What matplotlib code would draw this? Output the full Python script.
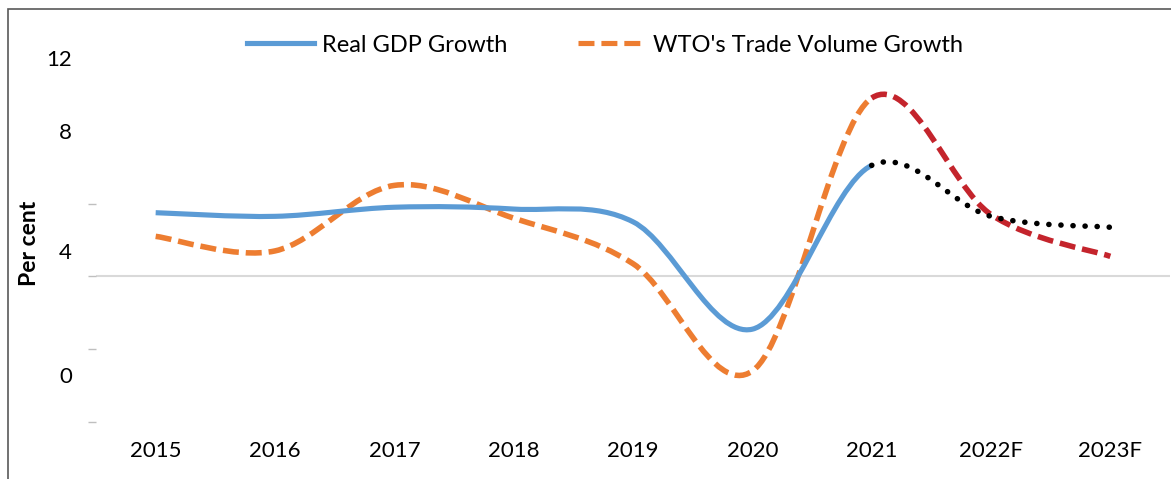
import numpy as np
import matplotlib
matplotlib.use("Agg")
import matplotlib.pyplot as plt
from matplotlib.path import Path
from matplotlib.patches import PathPatch, Rectangle
from matplotlib.lines import Line2D

plt.rcParams['font.family'] = ['Lato', 'DejaVu Sans']
plt.rcParams['lines.scale_dashes'] = False

# ---- data -------------------------------------------------------------
years = ["2015", "2016", "2017", "2018", "2019", "2020", "2021", "2022F", "2023F"]
gdp   = [3.5, 3.3, 3.8, 3.7, 3.0, -2.9, 6.1, 3.3, 2.7]     # Real GDP growth, %
trade = [2.2, 1.4, 5.0, 3.2, 0.7, -5.2, 9.8, 3.4, 1.1]     # WTO trade volume growth, %
last_actual = 6   # index of 2021, segments after it are forecasts

# y axis as it appears in the source (labels sit off their tick marks)
ytick_marks  = [-8, -4, 0, 4, 8, 12]
ylabel_pos   = [12, 8, 1.37, -5.4]
ylabel_text  = ["12", "8", "4", "0"]

c_blue   = "#5B9BD5"
c_orange = "#ED7D31"
c_red    = "#C4242C"


def smooth_path(x, y, i0, i1):
    # excel style smoothed line: cubic bezier with catmull-rom tangents
    P = np.column_stack([x, y]).astype(float)
    n = len(P)
    verts = [P[i0]]
    codes = [Path.MOVETO]
    for i in range(i0, i1):
        p0 = P[i - 1] if i > 0 else P[i]
        p1 = P[i]
        p2 = P[i + 1]
        p3 = P[i + 2] if i + 2 < n else P[i + 1]
        verts += [p1 + (p2 - p0) / 6.0, p2 - (p3 - p1) / 6.0, p2]
        codes += [Path.CURVE4] * 3
    return Path(verts, codes)


fig = plt.figure(figsize=(11.71, 4.79), dpi=100)
ax = fig.add_axes([96 / 1171, 57 / 479, 1074 / 1171, 364 / 479])

x = np.arange(len(years))
n = len(years)

ax.axhline(0, color="#D9D9D9", lw=1.5, zorder=1)

dash = (0, (11.5, 5.0))
# actual segments
ax.add_patch(PathPatch(smooth_path(x, trade, 0, last_actual), fill=False,
                       edgecolor=c_orange, lw=4, linestyle=dash,
                       capstyle="butt", zorder=3))
ax.add_patch(PathPatch(smooth_path(x, gdp, 0, last_actual), fill=False,
                       edgecolor=c_blue, lw=3.7, capstyle="butt", zorder=4))
# forecast segments
ax.add_patch(PathPatch(smooth_path(x, trade, last_actual, n - 1), fill=False,
                       edgecolor=c_red, lw=4, linestyle=dash,
                       capstyle="butt", zorder=3))
ax.add_patch(PathPatch(smooth_path(x, gdp, last_actual, n - 1), fill=False,
                       edgecolor="black", lw=4, linestyle=(0, (0.1, 8.6)),
                       capstyle="round", zorder=4))

ax.set_xlim(-0.5, n - 0.5)
ax.set_ylim(-8, 12)
for s in ax.spines.values():
    s.set_visible(False)

ax.set_xticks(x, labels=years)
ax.tick_params(axis="x", length=0, pad=14, labelsize=16)

ax.set_yticks(ytick_marks, minor=True)
ax.set_yticks(ylabel_pos, labels=ylabel_text)
ax.tick_params(axis="y", which="minor", length=5.8, width=1, color="#BFBFBF")
ax.tick_params(axis="y", which="major", length=0, pad=17.3, labelsize=16)

fig.text(30 / 1171, 1 - 243 / 479, "Per cent", rotation=90, ha="center", va="center",
         fontsize=16.5, fontweight="bold")

handles = [Line2D([], [], color=c_blue, lw=3.7),
           Line2D([], [], color=c_orange, lw=3.7, linestyle=dash)]
fig.legend(handles, ["Real GDP Growth", "WTO's Trade Volume Growth"],
           loc="center", bbox_to_anchor=(605 / 1171, 1 - 45 / 479), ncol=2,
           frameon=False, fontsize=17, handlelength=2.85, handletextpad=0.34,
           columnspacing=3.0)

# chart frame (left and top edge visible in the source)
fig.add_artist(Rectangle((8 / 1171, -0.1), 2.0, 1.1 - 8.5 / 479, transform=fig.transFigure,
                         fill=False, edgecolor="#595959", lw=1.2))

fig.savefig("out.png", dpi=100)
